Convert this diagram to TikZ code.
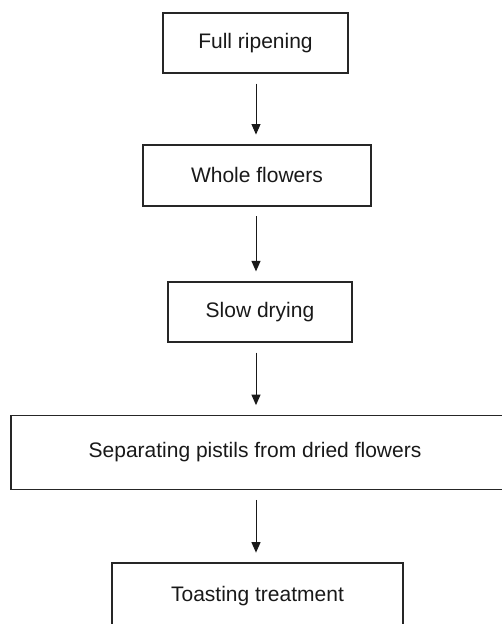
\documentclass[tikz,border=0pt]{standalone}
\usepackage{fontspec}
\setmainfont{Liberation Sans}
\usetikzlibrary{arrows.meta}
\begin{document}
\begin{tikzpicture}[x=1pt,y=-1pt,
  stepbox/.style={draw=black!85,line width=1.7pt,inner sep=0pt,anchor=center,
    font=\fontsize{21}{25}\selectfont,text=black!90},
  flowarrow/.style={draw=black!90,line width=1pt,-{Triangle[width=9pt,length=10.5pt]},
    shorten <=9.5pt,shorten >=9.5pt}]
\useasboundingbox (0,0) rectangle (501,624);
\node[stepbox,minimum width=185pt,minimum height=60.5pt] (b1) at (255.5,43) {Full ripening};
\node[stepbox,minimum width=228pt,minimum height=61pt] (b2) at (257,175.4) {Whole flowers};
\node[stepbox,minimum width=184pt,minimum height=60.5pt] (b3) at (260,312) {Slow drying};
\node[stepbox,minimum width=510pt,minimum height=74pt] (b4) at (266,452.5) {\hspace*{-22pt}Separating pistils from dried flowers};
\node[stepbox,minimum width=291pt,minimum height=66pt] (b5) at (257.5,596) {Toasting treatment};
\coordinate (ax) at (256,0);
\draw[flowarrow] (b1.south -| ax) -- (b2.north -| ax);
\draw[flowarrow] (b2.south -| ax) -- (b3.north -| ax);
\draw[flowarrow] (b3.south -| ax) -- (b4.north -| ax);
\draw[flowarrow] (b4.south -| ax) -- (b5.north -| ax);
\end{tikzpicture}
\end{document}
